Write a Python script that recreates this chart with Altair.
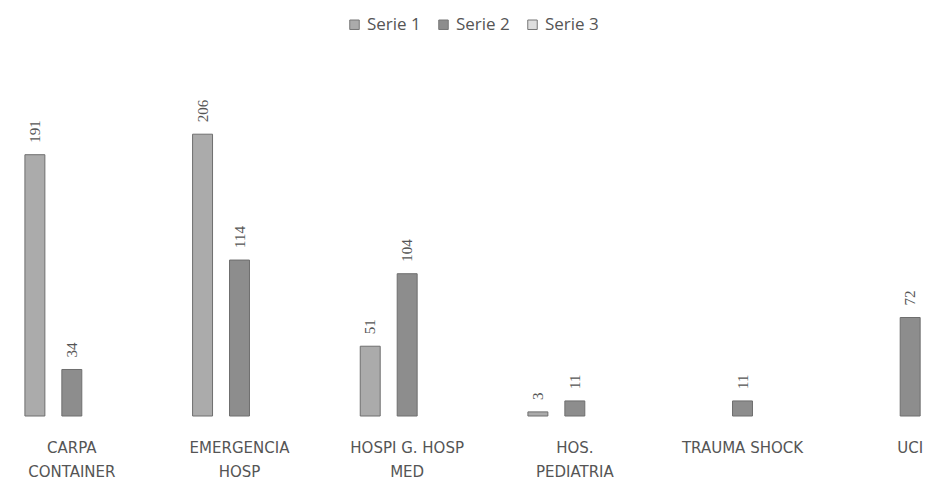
import altair as alt
import pandas as pd

categories = ["CARPA\nCONTAINER", "EMERGENCIA\nHOSP", "HOSPI G. HOSP\nMED",
              "HOS.\nPEDIATRIA", "TRAUMA SHOCK", "UCI"]
series_names = ["Serie 1", "Serie 2", "Serie 3"]
serie1 = [191, 206, 51, 3, None, None]
serie2 = [34, 114, 104, 11, 11, 72]
serie3 = [None, None, None, None, None, None]
colors = ["#ababab", "#8d8d8d", "#dedede"]

rows = []
for name, vals in zip(series_names, [serie1, serie2, serie3]):
    for c, v in zip(categories, vals):
        rows.append({"cat": c, "serie": name, "val": v})
df = pd.DataFrame(rows)

xenc = alt.X("cat:N", sort=categories, title=None,
             scale=alt.Scale(range=[-20, 986], paddingInner=0.22, paddingOuter=0.11),
             axis=alt.Axis(labelAngle=0, domain=False, ticks=False, labelPadding=24,
                           labelFontSize=15, labelColor="#555555", labelFont="DejaVu Sans",
                           labelLineHeight=24, labelBaseline="top",
                           labelExpr="split(datum.label, '\\n')"))
xoff = alt.XOffset("serie:N", scale=alt.Scale(domain=series_names, paddingInner=0.46, paddingOuter=0.5))
yenc = alt.Y("val:Q", scale=alt.Scale(domain=[0, 250], nice=False), axis=None)

base = alt.Chart(df)
bars = base.mark_bar(stroke="#6e6e6e", strokeWidth=1).encode(
    x=xenc, xOffset=xoff, y=yenc,
    color=alt.Color("serie:N", scale=alt.Scale(domain=series_names, range=colors),
                    legend=alt.Legend(title=None, orient="none", direction="horizontal",
                                      legendX=338, legendY=-58, symbolType="square",
                                      symbolSize=90, symbolStrokeColor="#777777",
                                      symbolStrokeWidth=1,
                                      labelFontSize=17, labelColor="#555555",
                                      labelFont="Open Sans", columnPadding=14)),
)
labels = base.mark_text(angle=270, align="left", baseline="middle", dx=12,
                        fontSize=15, font="Liberation Serif", color="#555555").encode(
    x=xenc, xOffset=xoff, y=yenc, text=alt.Text("val:Q"),
)

chart = (bars + labels).properties(
    width=922, height=342,
    autosize=alt.AutoSizeParams(type="none"),
    padding={"left": 0, "top": 66, "right": 0, "bottom": 66},
).configure(background="white").configure_view(strokeWidth=0, stroke=None)

chart.save("out.html", embed_options={"renderer": "svg", "actions": False})
